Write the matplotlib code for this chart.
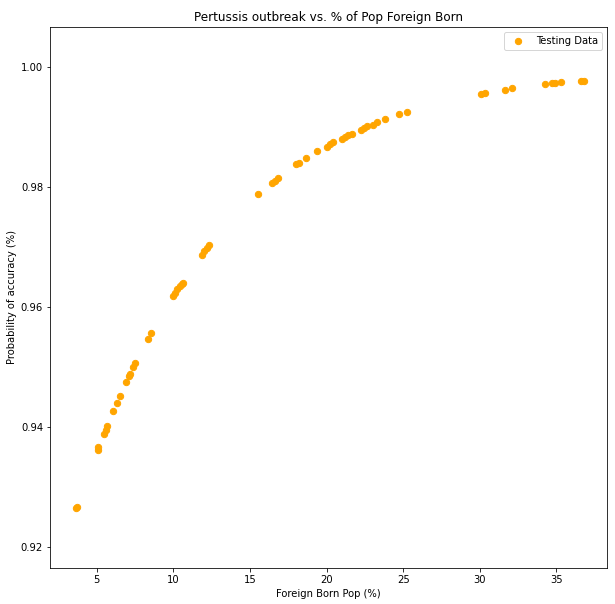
import matplotlib
matplotlib.use("Agg")
import matplotlib.pyplot as plt

# foreign born population (%) and predicted probability
foreign_born = [3.64, 3.69, 5.05, 5.11, 5.49, 5.60, 5.69, 6.08, 6.34, 6.51,
                6.93, 7.10, 7.20, 7.38, 7.51, 8.36, 8.56,
                9.95, 10.10, 10.25, 10.43, 10.54, 10.60,
                11.85, 12.02, 12.17, 12.34,
                15.54, 16.42, 16.63, 16.85,
                18.0, 18.22, 18.67, 19.39, 20.0, 20.22, 20.44,
                20.99, 21.2, 21.42, 21.64, 22.23, 22.44, 22.66, 23.01, 23.31,
                23.83, 24.75, 25.27,
                30.08, 30.36, 31.66, 32.12, 34.28, 34.71, 34.89, 35.30,
                36.61, 36.77]
accuracy = [0.92650, 0.92660, 0.93611, 0.93662, 0.93878, 0.93950, 0.94020,
            0.94267, 0.94400, 0.94512, 0.94745, 0.94850, 0.94883, 0.94995,
            0.95062, 0.95462, 0.95562,
            0.96183, 0.96238, 0.96295, 0.96350, 0.96383, 0.96400,
            0.96862, 0.96933, 0.96988, 0.97038,
            0.97878, 0.98062, 0.98100, 0.98150,
            0.98383, 0.98405, 0.98478, 0.98595, 0.98672, 0.98712, 0.98745,
            0.98800, 0.98833, 0.98862, 0.98888, 0.98945, 0.98983, 0.99017,
            0.99038, 0.99078, 0.99128, 0.99212, 0.99245,
            0.99545, 0.99567, 0.99612, 0.99645, 0.99712, 0.99728, 0.99733,
            0.99750, 0.99778, 0.99778]

fig = plt.figure(figsize=(615 / 72, 604 / 72), dpi=72)
ax = fig.add_axes([50 / 615, 36 / 604, 557 / 615, 541 / 604])

ax.scatter(foreign_born, accuracy, color="orange", s=40, label="Testing Data")

ax.set_xlim(1.95, 38.3)
ax.set_ylim(0.9165, 1.0067)
ax.set_yticks([0.92, 0.94, 0.96, 0.98, 1.00])
ax.set_title("Pertussis outbreak vs. % of Pop Foreign Born")
ax.set_xlabel("Foreign Born Pop (%)")
ax.set_ylabel("Probability of accuracy (%)")
ax.legend(loc="upper right")

fig.savefig("out.png", dpi=72)
